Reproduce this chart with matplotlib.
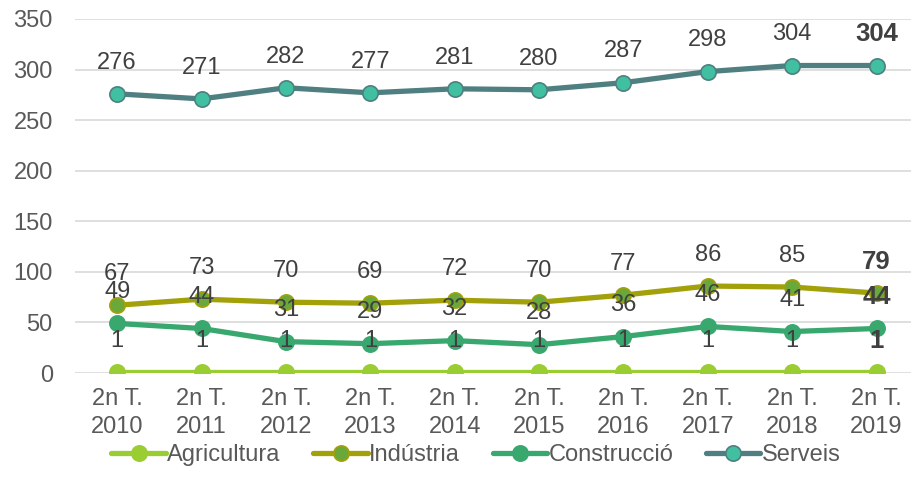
import matplotlib.pyplot as plt
import numpy as np

plt.rcParams['font.family'] = ['Liberation Sans', 'DejaVu Sans']

periodes = ['2n T.\n2010', '2n T.\n2011', '2n T.\n2012', '2n T.\n2013', '2n T.\n2014',
            '2n T.\n2015', '2n T.\n2016', '2n T.\n2017', '2n T.\n2018', '2n T.\n2019']
agricultura = [1, 1, 1, 1, 1, 1, 1, 1, 1, 1]
industria = [67, 73, 70, 69, 72, 70, 77, 86, 85, 79]
construccio = [49, 44, 31, 29, 32, 28, 36, 46, 41, 44]
serveis = [276, 271, 282, 277, 281, 280, 287, 298, 304, 304]

series = [
    ('Agricultura', agricultura, '#9ACD32', '#9ACD32', '#9ACD32'),
    ('Indústria', industria, '#A3A10A', '#6AA83A', '#A3A10A'),
    ('Construcció', construccio, '#38A86E', '#38A86E', '#38A86E'),
    ('Serveis', serveis, '#4F7F80', '#40C0A0', '#4F7F80'),
]

txt = '#404040'
grey = '#595959'

fig = plt.figure(figsize=(9.12, 4.95), dpi=100)
ax = fig.add_axes([75 / 912, 1 - 373 / 495, 837 / 912, 354 / 495])

x = np.arange(len(periodes))
for nom, vals, lc, fc, ec in series:
    ax.plot(x, vals, color=lc, lw=3.8, marker='o', ms=11, mfc=fc, mec=ec, mew=1.2,
            label=nom, zorder=3, solid_capstyle='round')
    # etiqueta de valor sobre cada punt, l'últim en negreta
    for i, v in enumerate(vals):
        last = i == len(vals) - 1
        ax.annotate(str(v), (x[i], v), xytext=(0, 22.5), textcoords='offset points',
                    ha='center', va='center', fontsize=17 if not last else 18.5,
                    fontweight='bold' if last else 'normal', color=txt, zorder=4)

ax.set_ylim(0, 350)
ax.set_xlim(-0.5, 9.42)
ax.set_yticks(range(0, 351, 50))
ax.set_xticks(x)
ax.set_xticklabels(periodes, linespacing=1.35)
ax.tick_params(axis='both', length=0, labelsize=17, colors=grey)
ax.tick_params(axis='x', pad=11)
ax.tick_params(axis='y', pad=16)
ax.grid(axis='y', color='#D9D9D9', lw=1.2)
ax.set_axisbelow(True)
for s in ax.spines.values():
    s.set_visible(False)

ax.legend(loc='center', bbox_to_anchor=((476 - 75) / 837, 1 - (455 - 19) / 354), ncol=4,
          frameon=False, fontsize=17, labelcolor=grey, handlelength=2.3,
          handletextpad=0.05, columnspacing=1.4)

fig.savefig('out.png', dpi=100)
